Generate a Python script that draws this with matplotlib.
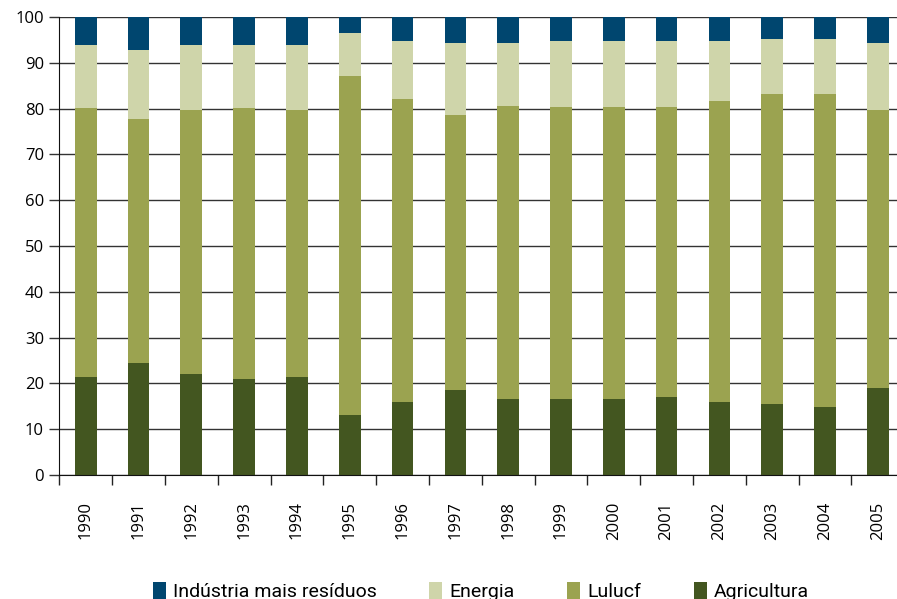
import numpy as np
import matplotlib.pyplot as plt
from matplotlib.ticker import FixedLocator

# ── data (percent share by sector) ──
years = ["1990", "1991", "1992", "1993", "1994", "1995", "1996", "1997",
         "1998", "1999", "2000", "2001", "2002", "2003", "2004", "2005"]
agricultura = [21.5, 24.5, 22.0, 21.0, 21.5, 13.0, 16.0, 18.6,
               16.5, 16.5, 16.5, 17.0, 16.0, 15.5, 14.9, 19.1]
lulucf = [58.7, 53.2, 57.7, 59.2, 58.2, 74.2, 66.2, 60.1,
          64.1, 63.8, 63.8, 63.3, 65.7, 67.7, 68.3, 60.7]
energia = [13.7, 15.1, 14.2, 13.7, 14.2, 9.2, 12.6, 15.6,
           13.7, 14.5, 14.5, 14.5, 13.1, 12.1, 12.1, 14.5]
industria = [6.1, 7.2, 6.1, 6.1, 6.1, 3.6, 5.2, 5.7,
             5.7, 5.2, 5.2, 5.2, 5.2, 4.7, 4.7, 5.7]

labels = ["Agricultura", "Lulucf", "Energia", "Indústria mais resíduos"]
colors = ["#435620", "#9BA350", "#CFD5AA", "#00466F"]

plt.rcParams["font.family"] = ["Open Sans", "DejaVu Sans"]

fig = plt.figure(figsize=(8.97, 5.99), dpi=100)
ax = fig.add_axes([0.0661, 0.207, 0.942, 0.7646])

x = np.arange(len(years))
bottom = np.zeros(len(years))
bars = []
for vals, lab, col in zip([agricultura, lulucf, energia, industria], labels, colors):
    b = ax.bar(x, vals, width=0.41, bottom=bottom, color=col, label=lab,
               edgecolor="none", zorder=3)
    bars.append(b)
    bottom += np.array(vals)

ax.set_xlim(-0.5, len(years) - 0.5)
ax.set_ylim(0, 100)
ax.set_yticks(range(0, 101, 10))
ax.yaxis.grid(True, color="#333333", lw=1.0, zorder=0)
ax.set_axisbelow(True)

# category labels at centres, tick marks at boundaries
ax.set_xticks(x)
ax.set_xticklabels(years, rotation=90, fontsize=12)
ax.tick_params(axis="x", length=0, pad=19)
ax.xaxis.set_minor_locator(FixedLocator(np.arange(-0.5, len(years), 1.0)))
ax.tick_params(axis="x", which="minor", length=7, width=1.0, color="#222222")
ax.tick_params(axis="y", length=7, width=1.0, color="#333333", labelsize=12, pad=4)

for s in ["top", "right"]:
    ax.spines[s].set_visible(False)
ax.spines["bottom"].set_color("#111111")
ax.spines["left"].set_color("#111111")
ax.spines["bottom"].set_zorder(4)

handles = [bars[3], bars[2], bars[1], bars[0]]
leg_labels = [labels[3], labels[2], labels[1], labels[0]]
fig.legend(handles, leg_labels, loc="center", ncol=4, frameon=False,
           bbox_to_anchor=(0.536, 0.013),
           prop={"family": ["Roboto", "DejaVu Sans"], "size": 14},
           handlelength=0.67, handleheight=1.0, handletextpad=0.36,
           columnspacing=2.7)

fig.savefig("out.png", dpi=100)
